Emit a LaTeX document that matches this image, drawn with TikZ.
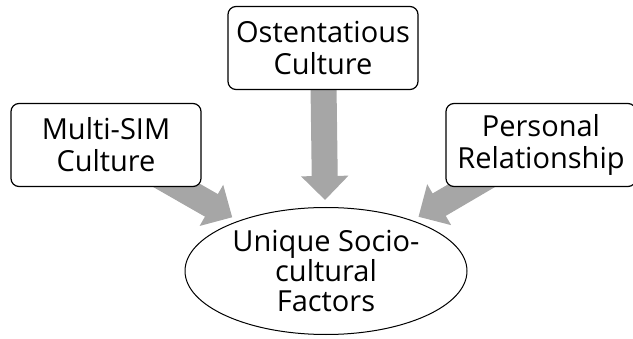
\documentclass[tikz,border=0pt]{standalone}
\usepackage{fontspec}
\setmainfont{Open Sans}
\usetikzlibrary{arrows.meta,backgrounds,shapes.geometric}
\definecolor{arrowgray}{HTML}{A6A6A6}
\tikzset{
  factorbox/.style = {draw, rounded corners=8pt, fill=white, line width=1.2pt,
    minimum width=190pt, minimum height=83pt, align=center,
    font=\fontsize{29}{32}\selectfont},
  bigarrow/.style = {arrowgray, line width=26pt,
    -{Triangle[width=46pt,length=24pt]}, shorten >=7pt}
}
\begin{document}
\begin{tikzpicture}[x=1pt, y=1pt]
   \useasboundingbox (0,0) rectangle (633,338);
   \node[factorbox] (multi) at (106,193) {Multi-SIM\\Culture};
   \node[factorbox] (osten) at (323,290) {Ostentatious\\Culture};
   \node[factorbox] (personal) at (541,193) {Personal\\Relationship};
   \node[draw, ellipse, fill=white, line width=1pt, minimum width=282pt,
      minimum height=127pt, inner sep=0pt, align=center,
      font=\fontsize{29}{30}\selectfont] (uniq) at (326,67)
      {Unique Socio-\\cultural\\Factors};
   \begin{scope}[on background layer]
      \draw[bigarrow] (multi.center) -- (uniq);
      \draw[bigarrow] (osten.center) -- (uniq);
      \draw[bigarrow] (personal.center) -- (uniq);
   \end{scope}
\end{tikzpicture}
\end{document}
